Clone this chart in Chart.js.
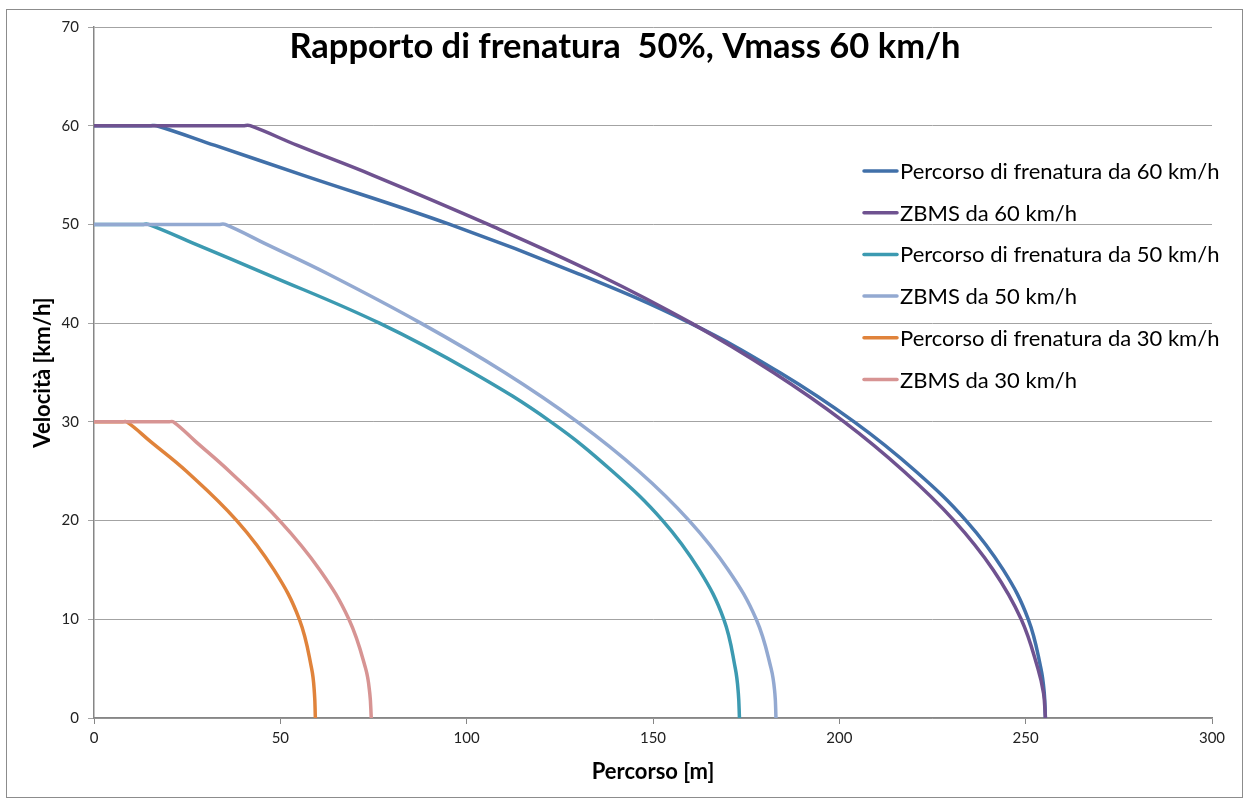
<!DOCTYPE html>
<html>
<head>
<meta charset="utf-8">
<script src="https://cdn.jsdelivr.net/npm/chart.js@4.4.1/dist/chart.umd.min.js"></script>
<style>
  html, body { margin: 0; padding: 0; background: #ffffff; }
  #wrap { position: relative; width: 1246px; height: 802px; }
</style>
</head>
<body>
<div id="wrap"><canvas id="c" width="1246" height="802"></canvas></div>
<script>
// ---- Data ----
const chartTitle = "Rapporto di frenatura  50%, Vmass 60 km/h";
const xAxisTitle = "Percorso [m]";
const yAxisTitle = "Velocità [km/h]";

const seriesLabels = [
  "Percorso di frenatura da 60 km/h",
  "ZBMS da 60 km/h",
  "Percorso di frenatura da 50 km/h",
  "ZBMS da 50 km/h",
  "Percorso di frenatura da 30 km/h",
  "ZBMS da 30 km/h"
];

// distance [m] and speed [km/h] of each curve
const brake60_x = [0, 15, 16.8, 32.5, 56, 95.5, 130, 160, 184, 204, 220.5, 234, 244, 250.7, 254.1, 255.0, 255.3];
const brake60_v = [60, 60, 60, 58, 55, 50, 45, 40, 35, 30, 25, 20, 15, 10, 5, 2.5, 0];

const zbms60_x = [0, 40, 41.9, 54.6, 74.7, 105.8, 134.8, 160.3, 182.3, 201.3, 217.3, 230.8, 241.3, 248.8, 253.3, 254.8, 255.3];
const zbms60_v = [60, 60, 60, 58, 55, 50, 45, 40, 35, 30, 25, 20, 15, 10, 5, 2.5, 0];

const brake50_x = [0, 13, 14.6, 27.2, 46.1, 76.6, 101.6, 122.6, 139.1, 152.6, 162.4, 169.0, 172.1, 172.9, 173.2];
const brake50_v = [50, 50, 50, 48, 45, 40, 35, 30, 25, 20, 15, 10, 5, 2.5, 0];

const zbms50_x = [0, 33.5, 35.2, 46.2, 62.7, 87.7, 110.2, 129.7, 146.2, 159.7, 170.2, 177.7, 181.7, 182.7, 183.0];
const zbms50_v = [50, 50, 50, 48, 45, 40, 35, 30, 25, 20, 15, 10, 5, 2.5, 0];

const brake30_x = [0, 7.5, 8.8, 15.2, 24.8, 38.3, 48.3, 55.1, 58.4, 59.15, 59.4];
const brake30_v = [30, 30, 30, 28, 25, 20, 15, 10, 5, 2.5, 0];

const zbms30_x = [0, 20, 21.3, 27.3, 36.3, 49.8, 60.6, 68.4, 72.9, 74.0, 74.4];
const zbms30_v = [30, 30, 30, 28, 25, 20, 15, 10, 5, 2.5, 0];

const xTicks = [0, 50, 100, 150, 200, 250, 300];
const yTicks = [0, 10, 20, 30, 40, 50, 60, 70];

const seriesColors = ["#4170A9", "#6F5290", "#3C9AB1", "#93A9D1", "#E0833B", "#D79493"];

// ---- Build datasets ----
const xs = [brake60_x, zbms60_x, brake50_x, zbms50_x, brake30_x, zbms30_x];
const vs = [brake60_v, zbms60_v, brake50_v, zbms50_v, brake30_v, zbms30_v];
const datasets = seriesLabels.map((label, i) => ({
  label: label,
  data: xs[i].map((x, k) => ({ x: x, y: vs[i][k] })),
  borderColor: seriesColors[i],
  backgroundColor: seriesColors[i],
  borderWidth: 3.5,
  pointRadius: 0,
  pointHoverRadius: 0,
  fill: false,
  showLine: true,
  tension: 0.4,
  borderCapStyle: 'butt',
  borderJoinStyle: 'round',
  order: seriesLabels.length - 1 - i
}));

// ---- Plugins: frame, title and legend drawn inside the plot ----
const framePlugin = {
  id: 'frame',
  beforeDraw(chart) {
    const ctx = chart.ctx;
    ctx.save();
    ctx.fillStyle = '#ffffff';
    ctx.fillRect(0, 0, chart.width, chart.height);
    ctx.strokeStyle = '#8c8c8c';
    ctx.lineWidth = 1;
    ctx.strokeRect(6.5, 9.5, 1236, 788);
    ctx.restore();
  }
};

const overlayPlugin = {
  id: 'overlay',
  afterDatasetsDraw(chart) {
    const ctx = chart.ctx;
    ctx.save();
    // title
    ctx.fillStyle = '#000000';
    ctx.font = 'bold 34.5px Lato';
    ctx.textAlign = 'center';
    ctx.textBaseline = 'alphabetic';
    ctx.fillText(chartTitle, 625, 58);
    // legend
    ctx.font = '22px Lato';
    ctx.textAlign = 'left';
    ctx.textBaseline = 'middle';
    chart.data.datasets.forEach((ds, i) => {
      const y = 171 + i * 41.7;
      ctx.strokeStyle = ds.borderColor;
      ctx.lineWidth = 3.5;
      ctx.lineCap = 'round';
      ctx.beginPath();
      ctx.moveTo(864, y);
      ctx.lineTo(897, y);
      ctx.stroke();
      ctx.fillStyle = '#000000';
      ctx.fillText(ds.label, 900, y + 1);
    });
    ctx.restore();
  }
};

new Chart(document.getElementById('c'), {
  type: 'scatter',
  data: { datasets: datasets },
  options: {
    responsive: false,
    animation: false,
    events: [],
    layout: { padding: { left: 0, right: 34, top: 27, bottom: 0 } },
    plugins: {
      legend: { display: false },
      title: { display: false },
      tooltip: { enabled: false }
    },
    scales: {
      x: {
        type: 'linear',
        min: 0, max: 300,
        afterFit(scale) { scale.height = 84; },
        afterBuildTicks(scale) { scale.ticks = xTicks.map(v => ({ value: v })); },
        grid: { drawOnChartArea: false, drawTicks: true, tickLength: 6, color: '#868686', lineWidth: 1 },
        border: { display: true, color: '#868686', width: 1.5 },
        ticks: { padding: 5, color: '#222222', font: { family: 'Lato', size: 15 }, maxRotation: 0 },
        title: { display: true, text: xAxisTitle, color: '#000000',
                 font: { family: 'Lato', size: 22, weight: 'bold', lineHeight: 1.2 },
                 padding: { top: 0, bottom: 17 } }
      },
      y: {
        type: 'linear',
        min: 0, max: 70,
        afterFit(scale) { scale.width = 94; },
        afterBuildTicks(scale) { scale.ticks = yTicks.map(v => ({ value: v })); },
        grid: { drawOnChartArea: true, drawTicks: true, tickLength: 6, color: '#a3a3a3', lineWidth: 1 },
        border: { display: true, color: '#868686', width: 1.5 },
        ticks: { padding: 9, color: '#222222', font: { family: 'Lato', size: 15 } },
        title: { display: true, text: yAxisTitle, color: '#000000',
                 font: { family: 'Lato', size: 22, weight: 'bold', lineHeight: 1.2 },
                 padding: { top: 30, bottom: 0 } }
      }
    }
  },
  plugins: [framePlugin, overlayPlugin]
});
</script>
</body>
</html>
